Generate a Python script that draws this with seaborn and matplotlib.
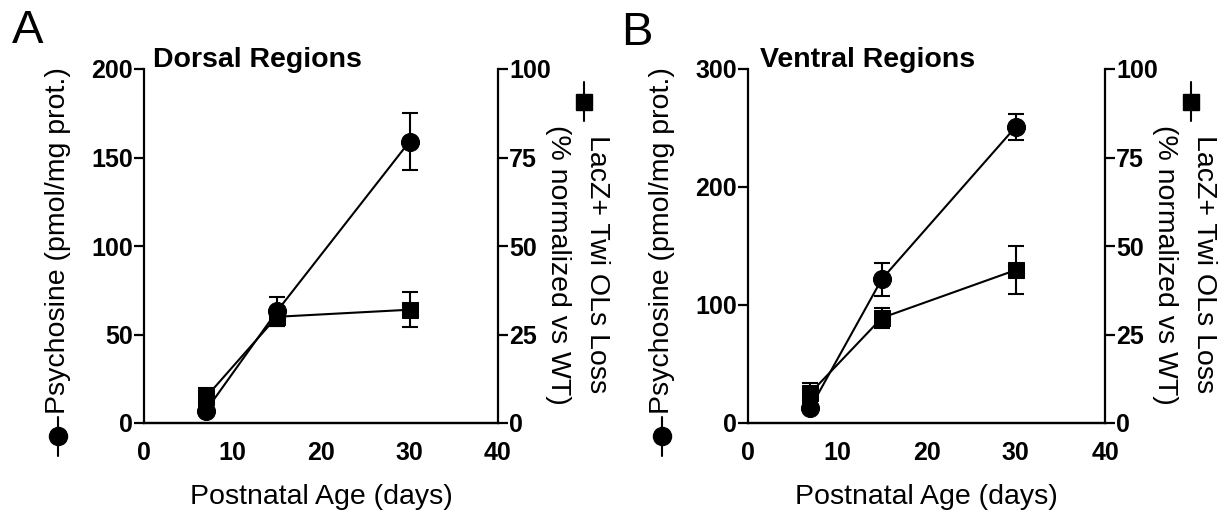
import matplotlib
matplotlib.use("Agg")
import matplotlib.pyplot as plt
import seaborn as sns
from matplotlib.lines import Line2D

# Data
days = [7, 15, 30]

dorsal_psy = [7, 63, 159]
dorsal_psy_err = [2, 8, 16]
dorsal_loss = [7.3, 30, 32]
dorsal_loss_err = [2.6, 2.5, 5]

ventral_psy = [13, 122, 251]
ventral_psy_err = [3, 14, 11]
ventral_loss = [8.5, 29.7, 43.2]
ventral_loss_err = [2.8, 2.9, 6.7]

sns.set_style("white")
plt.rcParams['font.family'] = ['Liberation Sans', 'DejaVu Sans']
plt.rcParams.update({'text.color': 'black', 'axes.labelcolor': 'black',
                     'xtick.color': 'black', 'ytick.color': 'black'})

W, H = 1230, 517
fig = plt.figure(figsize=(W / 100, H / 100), dpi=100)


def fx(px):
    return px / W


def fy(py):
    return 1 - py / H


def panel(left_px, right_px, psy, psy_err, loss, loss_err, ymax, ystep,
          title, letter, letter_xy, title_x):
    top_px, bot_px = 69, 423
    ax = fig.add_axes([fx(left_px), fy(bot_px), (right_px - left_px) / W,
                       (bot_px - top_px) / H])
    ax2 = ax.twinx()

    # squares: % loss on the right axis
    ax2.errorbar(days, loss, yerr=loss_err, fmt='none', ecolor='black',
                 elinewidth=1.5, capsize=6, capthick=1.5)
    sns.lineplot(x=days, y=loss, ax=ax2, color='black', marker='s',
                 markersize=11, linewidth=1.5, markeredgecolor='black')

    # circles: psychosine on the left axis
    ax.errorbar(days, psy, yerr=psy_err, fmt='none', ecolor='black',
                elinewidth=1.5, capsize=6, capthick=1.5)
    sns.lineplot(x=days, y=psy, ax=ax, color='black', marker='o',
                 markersize=13, linewidth=1.5, markeredgecolor='black')

    ax.set_zorder(ax2.get_zorder() + 1)
    ax.patch.set_visible(False)

    ax.set_xlim(0, 40)
    ax.set_ylim(0, ymax)
    ax2.set_ylim(0, 100)
    ax.set_xticks(range(0, 41, 10))
    ax.set_yticks(range(0, ymax + 1, ystep))
    ax2.set_yticks(range(0, 101, 25))

    for a in (ax, ax2):
        for s in a.spines.values():
            s.set_linewidth(1.6)
            s.set_color('black')
        a.spines['top'].set_visible(False)
        a.tick_params(width=1.6, length=7, color='black', labelcolor='black',
                      labelsize=18)
        for lab in a.get_yticklabels() + a.get_xticklabels():
            lab.set_fontweight('bold')
    ax.spines['right'].set_visible(False)
    ax2.spines['left'].set_visible(False)
    ax.tick_params(axis='y', pad=1)
    ax2.tick_params(axis='y', pad=1)
    ax.tick_params(axis='x', pad=6)

    ax.set_xlabel('Postnatal Age (days)', fontsize=20.5, color='black')
    ax.xaxis.label.set_va('center')
    ax.xaxis.set_label_coords(0.5, -(497 - bot_px) / (bot_px - top_px))
    ax.set_ylabel('')
    ax2.set_ylabel('')

    # left axis label with circle symbol
    lx = left_px - 86
    fig.text(fx(lx), fy(414), 'Psychosine (pmol/mg prot.)', rotation=90,
             ha='center', va='bottom', fontsize=20.5)
    fig.add_artist(Line2D([fx(lx), fx(lx)], [fy(417), fy(456)],
                          color='black', lw=1.5, transform=fig.transFigure))
    fig.add_artist(Line2D([fx(lx)], [fy(436)], marker='o', markersize=13,
                          color='black', transform=fig.transFigure))

    # right axis label with square symbol
    sx = right_px + 86
    fig.add_artist(Line2D([fx(sx), fx(sx)], [fy(82), fy(121)],
                          color='black', lw=1.5, transform=fig.transFigure))
    fig.add_artist(Line2D([fx(sx)], [fy(102)], marker='s', markersize=11,
                          color='black', transform=fig.transFigure))
    fig.text(fx(right_px + 99), fy(135), 'LacZ+ Twi OLs Loss', rotation=270,
             ha='center', va='top', fontsize=20.5)
    fig.text(fx(right_px + 60), fy(125), '(% normalized vs WT)', rotation=270,
             ha='center', va='top', fontsize=20.5)

    fig.text(fx(title_x), fy(60), title, ha='left', va='center',
             fontsize=20.5, fontweight='bold')
    fig.text(fx(letter_xy[0]), fy(letter_xy[1]), letter, ha='center',
             va='center', fontsize=34)


panel(144, 498, dorsal_psy, dorsal_psy_err, dorsal_loss, dorsal_loss_err,
      200, 50, 'Dorsal Regions', 'A', (28, 31), 153)
panel(748, 1105, ventral_psy, ventral_psy_err, ventral_loss, ventral_loss_err,
      300, 100, 'Ventral Regions', 'B', (637, 33), 760)

fig.savefig('out.png', dpi=100)
plt.close(fig)
